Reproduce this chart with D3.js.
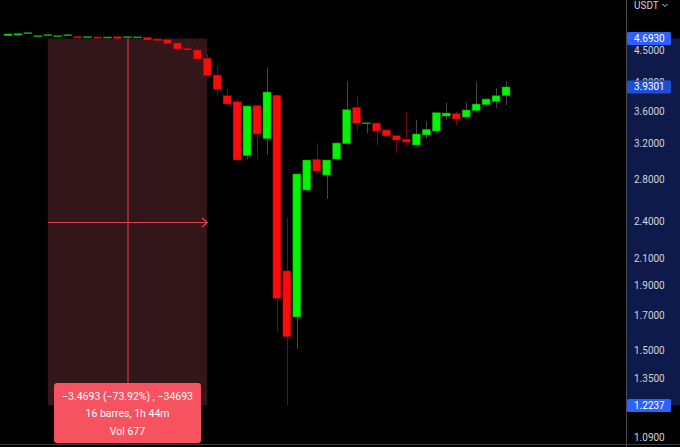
<!DOCTYPE html>
<html>
<head>
<meta charset="utf-8">
<script src="https://cdn.jsdelivr.net/npm/d3@7"></script>
<style>
  html, body { margin: 0; padding: 0; background: #000; }
  svg { display: block; }
  text { font-family: Roboto, "Liberation Sans", sans-serif; }
</style>
</head>
<body>
<div id="chart"></div>
<script>
// OHLC, one bar per 6.5 min
var opens  = [4.742, 4.754, 4.777, 4.725, 4.742, 4.725, 4.742, 4.728, 4.707, 4.720,
              4.703, 4.725, 4.707, 4.705, 4.714, 4.685, 4.673, 4.617, 4.528, 4.500,
              4.365, 4.106, 3.806, 3.723, 3.055, 3.669, 3.251, 3.812, 2.003, 1.692,
              2.694, 3.015, 2.846, 3.018, 3.192, 3.648, 3.440, 3.443, 3.357, 3.287,
              3.245, 3.177, 3.296, 3.344, 3.533, 3.563, 3.520, 3.603, 3.683, 3.723, 3.806];
var highs  = [4.778, 4.782, 4.800, 4.746, 4.765, 4.746, 4.764, 4.732, 4.729, 4.724,
              4.724, 4.729, 4.728, 4.726, 4.718, 4.690, 4.678, 4.622, 4.605, 4.566,
              4.435, 4.244, 3.901, 3.756, 3.675, 3.688, 4.224, 3.820, 2.434, 2.860,
              3.010, 3.197, 3.010, 3.210, 4.012, 3.802, 3.450, 3.450, 3.365, 3.290,
              3.582, 3.482, 3.469, 3.580, 3.710, 3.590, 3.715, 4.002, 3.765, 3.911, 4.017];
var lows   = [4.738, 4.750, 4.772, 4.720, 4.738, 4.721, 4.738, 4.700, 4.703, 4.693,
              4.700, 4.686, 4.703, 4.701, 4.665, 4.652, 4.600, 4.512, 4.495, 4.350,
              4.090, 3.806, 3.690, 3.000, 3.015, 3.015, 3.066, 1.603, 1.2237, 1.505,
              2.685, 2.846, 2.607, 3.010, 3.190, 3.348, 3.317, 3.177, 3.280, 3.089,
              3.158, 3.170, 3.248, 3.328, 3.482, 3.419, 3.511, 3.576, 3.656, 3.643, 3.679];
var closes = [4.772, 4.777, 4.795, 4.742, 4.760, 4.742, 4.760, 4.703, 4.725, 4.697,
              4.720, 4.690, 4.725, 4.722, 4.668, 4.656, 4.605, 4.516, 4.500, 4.354,
              4.096, 3.897, 3.692, 3.007, 3.665, 3.308, 3.858, 1.812, 1.574, 2.857,
              3.007, 2.888, 3.007, 3.200, 3.616, 3.440, 3.446, 3.344, 3.284, 3.236,
              3.212, 3.308, 3.365, 3.576, 3.572, 3.495, 3.612, 3.692, 3.760, 3.806, 3.9301];

var priceTicks = [4.5, 4.0, 3.6, 3.2, 2.8, 2.4, 2.1, 1.9, 1.7, 1.5, 1.35, 1.09];

// price range measurement
var measureFrom = 4;      // bar index
var measureTo = 20;
var measureHigh = 4.6930;
var measureLow = 1.2237;
var measureLines = ["\u22123.4693 (\u221273.92%) , \u221234693", "16 barres, 1h 44m", "Vol 677"];
var lastPrice = 3.9301;

var width = 680, height = 447;
var paneRight = 626, paneBottom = 445;

var bars = opens.map(function (o, i) {
  return { i: i, o: o, h: highs[i], l: lows[i], c: closes[i] };
});

var x = d3.scaleBand()
  .domain(d3.range(bars.length))
  .range([2, 2 + 10 * bars.length])
  .padding(0.2);
var cx = function (i) { return x(i) + x.bandwidth() / 2; };

var y = d3.scaleLog()
  .domain([1.09, 4.5])
  .range([437, 50]);

var svg = d3.select("#chart").append("svg")
  .attr("width", width)
  .attr("height", height);

svg.append("rect").attr("width", width).attr("height", height).attr("fill", "#000");

// measurement box behind candles
var mx0 = cx(measureFrom), mx1 = cx(measureTo);
var my0 = y(measureHigh), my1 = y(measureLow);
var mxc = (mx0 + mx1) / 2, myc = (my0 + my1) / 2;

svg.append("rect")
  .attr("x", mx0).attr("y", my0)
  .attr("width", mx1 - mx0).attr("height", my1 - my0)
  .attr("fill", "#33161a");

svg.append("line")
  .attr("x1", Math.round(mxc)).attr("x2", Math.round(mxc))
  .attr("y1", my0).attr("y2", my1)
  .attr("stroke", "#8e2a32").attr("stroke-width", 2);

svg.append("line")
  .attr("x1", mx0).attr("x2", mx1)
  .attr("y1", Math.round(myc) + 0.5).attr("y2", Math.round(myc) + 0.5)
  .attr("stroke", "#e0404c").attr("stroke-width", 1);

svg.append("path")
  .attr("d", "M" + (mx1 - 5) + "," + (myc - 4) + "L" + mx1 + "," + (myc + 0.5) + "L" + (mx1 - 5) + "," + (myc + 5))
  .attr("fill", "none").attr("stroke", "#e0404c").attr("stroke-width", 1.2);

// candles
var g = svg.append("g");
var up = function (d) { return d.c >= d.o; };

g.selectAll("line.wick")
  .data(bars)
  .enter().append("line")
  .attr("class", "wick")
  .attr("x1", function (d) { return Math.round(cx(d.i)) + 0.5; })
  .attr("x2", function (d) { return Math.round(cx(d.i)) + 0.5; })
  .attr("y1", function (d) { return y(d.h); })
  .attr("y2", function (d) { return y(d.l); })
  .attr("stroke", function (d) { return up(d) ? "#454545" : "#760a0a"; })
  .attr("stroke-width", 1);

g.selectAll("rect.body")
  .data(bars)
  .enter().append("rect")
  .attr("class", "body")
  .attr("x", function (d) { return x(d.i); })
  .attr("width", x.bandwidth())
  .attr("y", function (d) { return y(Math.max(d.o, d.c)); })
  .attr("height", function (d) { return Math.max(1, Math.abs(y(d.o) - y(d.c))); })
  .attr("fill", function (d) { return up(d) ? "#00f500" : "#ff0a0a"; })
  .attr("stroke", function (d) { return up(d) ? "#0a8a0a" : "#8a0808"; })
  .attr("stroke-width", 0.5);

// measurement label
var boxW = 147, boxH = 60;
var box = svg.append("g")
  .attr("transform", "translate(" + (mxc - boxW / 2) + "," + (paneBottom - 2 - boxH) + ")");
box.append("rect")
  .attr("width", boxW).attr("height", boxH).attr("rx", 3)
  .attr("fill", "#f7525f");
box.selectAll("text")
  .data(measureLines)
  .enter().append("text")
  .attr("x", boxW / 2)
  .attr("y", function (d, i) { return 13 + i * 17.6; })
  .attr("dy", "0.35em")
  .attr("text-anchor", "middle")
  .attr("fill", "#fff")
  .attr("font-size", 10.5)
  .text(function (d) { return d; });

// price scale
svg.append("rect")
  .attr("x", paneRight).attr("y", my0)
  .attr("width", width - paneRight).attr("height", my1 - my0)
  .attr("fill", "#0d1a4a");

var yAxis = d3.axisRight(y)
  .tickValues(priceTicks)
  .tickSize(0)
  .tickPadding(8)
  .tickFormat(d3.format(".4f"));

var ax = svg.append("g")
  .attr("transform", "translate(" + paneRight + ",0)")
  .call(yAxis);
ax.select(".domain").remove();
ax.selectAll("text")
  .attr("fill", "#d1d4dc")
  .attr("font-size", 10)
  .attr("font-family", "Roboto, 'Liberation Sans', sans-serif");

svg.append("line")
  .attr("x1", paneRight + 0.5).attr("x2", paneRight + 0.5)
  .attr("y1", 0).attr("y2", height)
  .attr("stroke", "#4a4a4a");

svg.append("line")
  .attr("x1", 0).attr("x2", width)
  .attr("y1", paneBottom - 0.5).attr("y2", paneBottom - 0.5)
  .attr("stroke", "#3a3a3a");

// highlighted price labels
var tags = [
  { v: measureHigh, fill: "#2962ff" },
  { v: lastPrice, fill: "#1d4fd6" },
  { v: measureLow, fill: "#2962ff" }
];
var tag = svg.selectAll("g.tag")
  .data(tags)
  .enter().append("g")
  .attr("class", "tag")
  .attr("transform", function (d) { return "translate(" + (paneRight + 1) + "," + y(d.v) + ")"; });
tag.append("rect")
  .attr("x", 0).attr("y", -6.5)
  .attr("width", 44).attr("height", 13).attr("rx", 1.5)
  .attr("fill", function (d) { return d.fill; });
tag.append("text")
  .attr("x", 7).attr("dy", "0.35em")
  .attr("fill", "#fff").attr("font-size", 10)
  .text(function (d) { return d3.format(".4f")(d.v); });

svg.append("text")
  .attr("x", 634).attr("y", 5).attr("dy", "0.35em")
  .attr("fill", "#d1d4dc").attr("font-size", 10)
  .text("USDT");
svg.append("path")
  .attr("d", "M662.5,4 L665,6.5 L667.5,4")
  .attr("fill", "none").attr("stroke", "#d1d4dc").attr("stroke-width", 1);
</script>
</body>
</html>
